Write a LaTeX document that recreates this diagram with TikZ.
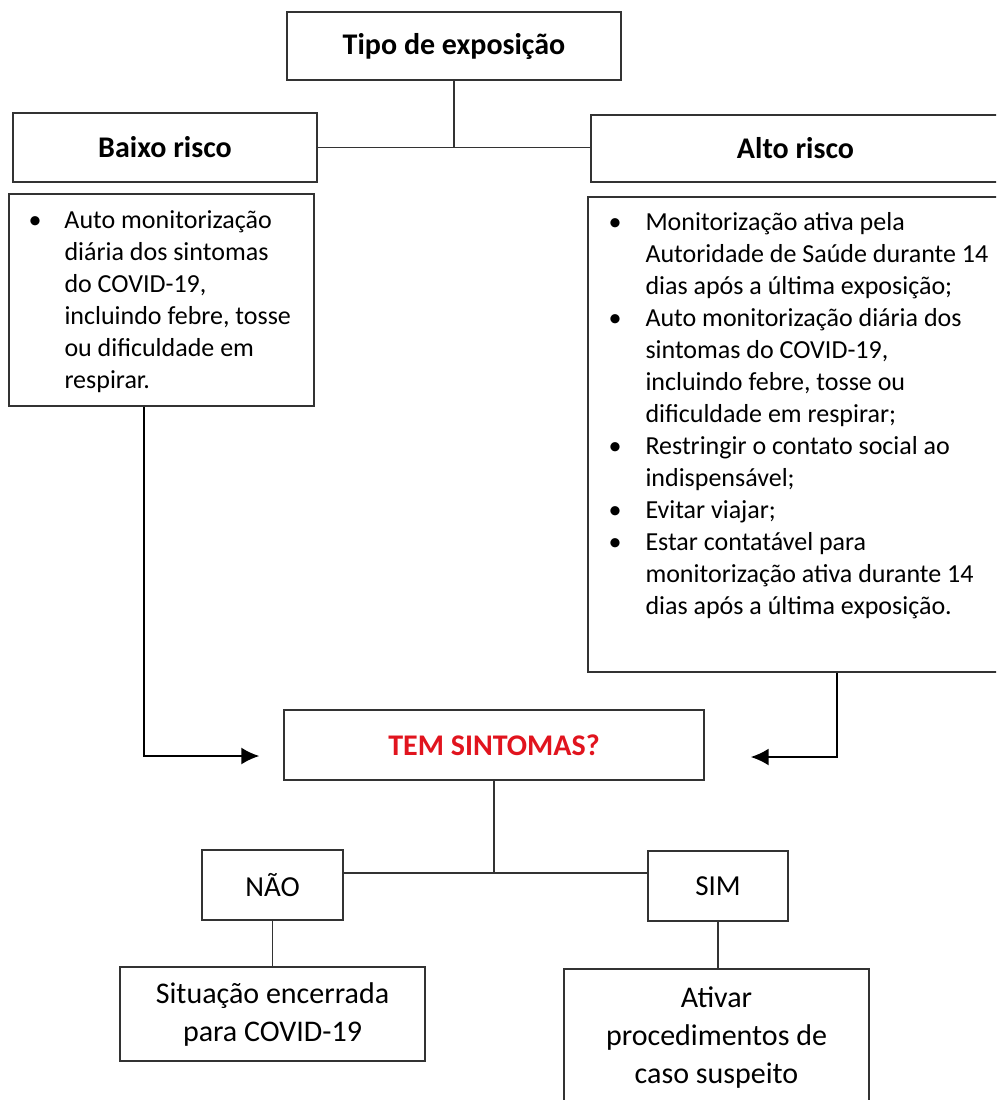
\documentclass[tikz,border=0pt]{standalone}
\usepackage{fontspec}
\setmainfont{Carlito}
\usepackage{tikz}
\usetikzlibrary{arrows.meta, calc}
\definecolor{alertred}{RGB}{225,20,30}

\begin{document}
\begin{tikzpicture}[
    x=1pt, y=-1pt,
    box/.style={
        rectangle, draw=black!80, line width=1.4pt,
        inner sep=0pt, align=center
    },
    title/.style={box, font=\fontsize{30}{36}\selectfont\bfseries},
    answer/.style={box, font=\fontsize{29}{35}\selectfont},
    result/.style={box, font=\fontsize{30}{38}\selectfont},
    listtext/.style={anchor=north west, inner sep=0pt,
        font=\fontsize{26}{32}\selectfont},
    link/.style={line width=1.3pt, draw=black!80},
    arrow/.style={-{Latex[length=18pt, width=17pt]}, line width=2pt}
]
    \useasboundingbox (0,0) rectangle (996,1100);
    \clip (0,0) rectangle (996,1100);

    % exposure level
    \node[title, minimum width=334, minimum height=68] (tipo) at (454,46) {Tipo de exposição};
    \node[title, minimum width=304, minimum height=69] (baixo) at (165,147.5) {Baixo risco};
    \node[title, minimum width=409, minimum height=67] (alto) at (795.5,148.5) {Alto risco};

    \draw[link] (tipo.south) -- (tipo.south |- baixo.east);
    \draw[link] (baixo.east) -- (alto.west |- baixo.east);

    % measures per level
    \node[box, minimum width=305, minimum height=212] (baixolist) at (161.5,300) {};
    \node[listtext] (baixotext) at ($(baixolist.north west)+(20,13)$) {%
        \begin{tabular}{@{}p{36pt}@{}l@{}}
            \textbullet & Auto monitorização\\
                        & diária dos sintomas\\
                        & do COVID-19,\\
                        & incluindo febre, tosse\\
                        & ou dificuldade em\\
                        & respirar.
        \end{tabular}};

    \node[box, minimum width=412, minimum height=475] (altolist) at (794,434.5) {};
    \node[listtext] (altotext) at ($(altolist.north west)+(21,12)$) {%
        \begin{tabular}{@{}p{37pt}@{}l@{}}
            \textbullet & Monitorização ativa pela\\
                        & Autoridade de Saúde durante 14\\
                        & dias após a última exposição;\\
            \textbullet & Auto monitorização diária dos\\
                        & sintomas do COVID-19,\\
                        & incluindo febre, tosse ou\\
                        & dificuldade em respirar;\\
            \textbullet & Restringir o contato social ao\\
                        & indispensável;\\
            \textbullet & Evitar viajar;\\
            \textbullet & Estar contatável para\\
                        & monitorização ativa durante 14\\
                        & dias após a última exposição.
        \end{tabular}};

    % question
    \node[title, text=alertred, minimum width=420, minimum height=70] (tem) at (494,745) {TEM SINTOMAS?};

    \draw[arrow, shorten >=24] ($(baixolist.south west)+(136,0)$) |- ($(tem.west)+(0,11)$);
    \draw[arrow, shorten >=46] ($(altolist.south west)+(250,0)$) |- ($(tem.east)+(0,12)$);

    % answers
    \node[answer, minimum width=141, minimum height=70] (nao) at (272.5,885) {NÃO};
    \node[answer, minimum width=140, minimum height=70] (sim) at (718,886) {SIM};

    \draw[link] (tem.south) -- ($(tem.south |- nao.east)+(0,-12)$);
    \draw[link] ($(nao.east)+(0,-12)$) -- ($(sim.west)+(0,-13)$);

    % outcomes
    \node[result, minimum width=305, minimum height=94] (situacao) at (272.5,1014) {Situação encerrada\\para COVID-19};
    \node[result, minimum width=305, minimum height=138] (ativar) at (716.5,1038) {Ativar\\procedimentos de\\caso suspeito};

    \draw[link] (nao.south) -- (situacao.north);
    \draw[link] (sim.south) -- (sim.south |- ativar.north);
\end{tikzpicture}
\end{document}
